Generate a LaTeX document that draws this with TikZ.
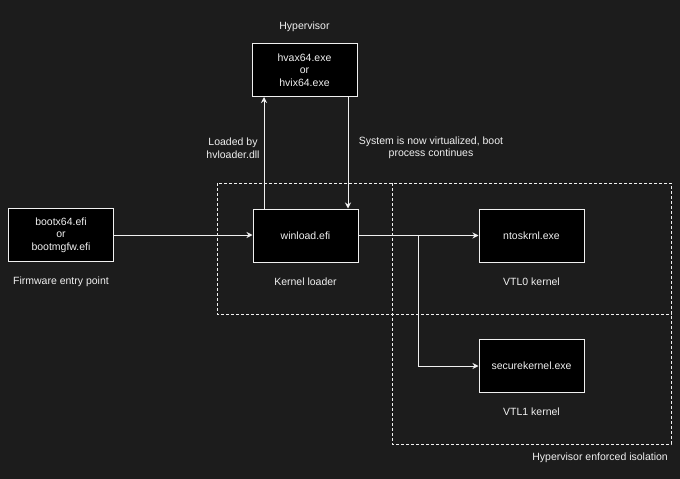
\documentclass[tikz,border=0pt]{standalone}
\usepackage{fontspec}
\setmainfont{Liberation Sans}
\usetikzlibrary{arrows.meta}
\definecolor{bg}{HTML}{1C1C1C}
\definecolor{fg}{HTML}{F0F0F0}
\begin{document}
\begin{tikzpicture}[x=1pt,y=-1pt,
  font=\fontsize{10.5}{12.5}\selectfont,
  box/.style={draw=fg, fill=black, text=fg, line width=1pt, minimum width=105pt, minimum height=53pt, align=center, inner sep=0pt},
  lbl/.style={text=fg, align=center, inner sep=0pt},
  conn/.style={draw=fg, line width=1pt, -{Stealth[length=6pt,width=6pt]}},
  zone/.style={draw=fg, line width=1pt, dash pattern=on 3pt off 2pt}]
\fill[bg] (0,0) rectangle (680,479);
\useasboundingbox (0,0) rectangle (680,479);
% zones
\draw[zone] (217,183) rectangle (671,314);
\draw[zone] (392,183) rectangle (671,444);
% boxes
\node[box] (boot) at (61,235) {bootx64.efi\\or\\bootmgfw.efi};
\node[box] (hv) at (304.5,70) {hvax64.exe\\or\\hvix64.exe};
\node[box] (win) at (305.5,235.5) {winload.efi};
\node[box] (nt) at (531.5,235.5) {ntoskrnl.exe};
\node[box] (sk) at (531.5,366) {securekernel.exe};
% labels
\node[lbl] (lhv) at (304.5,27) {Hypervisor};
\node[lbl] (lfw) at (61,282) {Firmware entry point};
\node[lbl] (lkl) at (305.5,282) {Kernel loader};
\node[lbl] (lv0) at (531.5,282) {VTL0 kernel};
\node[lbl] (lv1) at (531.5,412) {VTL1 kernel};
\node[lbl, anchor=east] (liso) at (668,458) {Hypervisor enforced isolation};
\node[lbl] (lload) at (233,148) {Loaded by\\hvloader.dll};
\node[lbl] (lsys) at (431,148) {System is now virtualized, boot\\process continues};
% connectors
\coordinate (br) at (418,235.5);
\draw[conn] (boot.east) -- (win.west |- boot.east);
\draw[conn] (win.north -| 264,0) -- (hv.south -| 264,0);
\draw[conn] (hv.south -| 348,0) -- (win.north -| 348,0);
\draw[conn] (win.east) -- (nt.west);
\draw[conn] (br) |- (sk.west);
\end{tikzpicture}
\end{document}
